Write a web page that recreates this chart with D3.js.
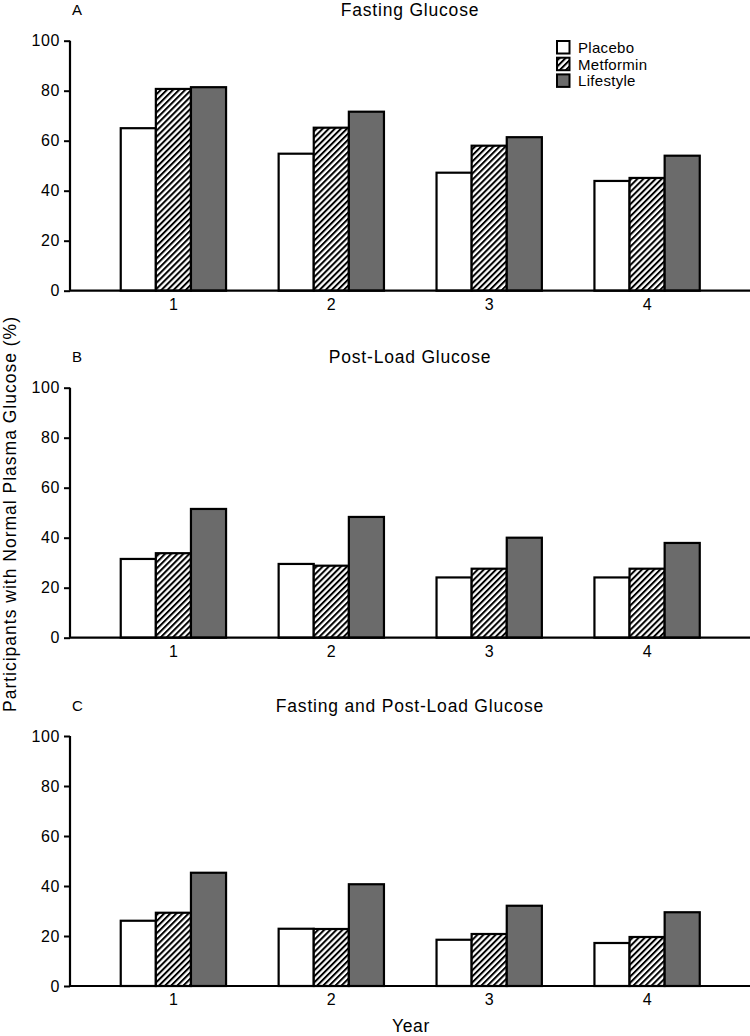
<!DOCTYPE html>
<html><head><meta charset="utf-8">
<script src="https://cdn.jsdelivr.net/npm/d3@7"></script>
<style>
html,body{margin:0;padding:0;background:#fff;}
svg{display:block;font-family:"Liberation Sans",Arial,Helvetica,sans-serif;}
</style></head>
<body>
<svg id="chart" width="750" height="1036"></svg>
<script>
const years = ["1","2","3","4"];
const seriesNames = ["Placebo","Metformin","Lifestyle"];
const panelLetters = ["A","B","C"];
const panelTitles = ["Fasting Glucose","Post-Load Glucose","Fasting and Post-Load Glucose"];
const yTicks = [0,20,40,60,80,100];
// values per panel: [placebo, metformin, lifestyle] for years 1-4
const fastingPlacebo   = [65.0, 54.8, 47.2, 43.9];
const fastingMetformin = [80.7, 65.2, 58.0, 45.1];
const fastingLifestyle = [81.4, 71.6, 61.4, 54.0];
const postPlacebo      = [31.5, 29.5, 24.1, 24.1];
const postMetformin    = [33.8, 28.8, 27.6, 27.6];
const postLifestyle    = [51.5, 48.3, 40.0, 37.9];
const bothPlacebo      = [26.1, 22.9, 18.5, 17.2];
const bothMetformin    = [29.3, 22.8, 20.8, 19.6];
const bothLifestyle    = [45.3, 40.7, 32.1, 29.5];
const panelData = [
  [fastingPlacebo, fastingMetformin, fastingLifestyle],
  [postPlacebo, postMetformin, postLifestyle],
  [bothPlacebo, bothMetformin, bothLifestyle]
];

const svg = d3.select("#chart");
const defs = svg.append("defs");
const pat = defs.append("pattern").attr("id","hatch")
  .attr("patternUnits","userSpaceOnUse").attr("width",4.3).attr("height",4.3)
  .attr("patternTransform","rotate(45)");
pat.append("rect").attr("width",4.3).attr("height",4.3).attr("fill","#fff");
pat.append("line").attr("x1",1).attr("y1",0).attr("x2",1).attr("y2",4.3)
  .attr("stroke","#000").attr("stroke-width",2);

const fills = ["#ffffff","url(#hatch)","#6b6b6b"];
const axisLeft = 70, axisRight = 750;
const panelTops = [40.7, 387.7, 736];
const panelH = 250;
const FONT = "'Liberation Sans',Arial,sans-serif";

const x0 = d3.scaleBand().domain(years).range([94.45, 726.05]).paddingInner(0.333).paddingOuter(0.1665);
const x1 = d3.scaleBand().domain(seriesNames).range([0, x0.bandwidth()]);

panelData.forEach((series, pi) => {
  const top = panelTops[pi];
  const y = d3.scaleLinear().domain([0,100]).range([top+panelH, top]);
  const g = svg.append("g");

  series.forEach((vals, si) => {
    g.selectAll(null).data(vals).enter().append("rect")
      .attr("x", (d,i) => x0(years[i]) + x1(seriesNames[si]))
      .attr("y", d => y(d))
      .attr("width", x1.bandwidth())
      .attr("height", d => y(0) - y(d))
      .attr("fill", fills[si])
      .attr("stroke", "#000")
      .attr("stroke-width", 2.2);
  });

  const ya = g.append("g").attr("transform", `translate(${axisLeft},0)`)
    .call(d3.axisLeft(y).tickValues(yTicks).tickSize(6).tickPadding(4));
  ya.select(".domain").attr("stroke","#000").attr("stroke-width",2.2).attr("d",`M0,${y(100)}V${y(0)}`);
  ya.selectAll(".tick line").attr("stroke","#000").attr("stroke-width",2);
  ya.selectAll(".tick text").attr("font-size","16px").attr("letter-spacing","0.6px")
    .attr("fill","#000").style("font-family",FONT);

  const xa = g.append("g").attr("transform", `translate(0,${y(0)})`)
    .call(d3.axisBottom(x0).tickSize(0).tickPadding(8));
  xa.select(".domain").attr("stroke","#000").attr("stroke-width",2.2).attr("d",`M${axisLeft},0H${axisRight}`);
  xa.selectAll(".tick text").attr("font-size","16px").attr("fill","#000").style("font-family",FONT);

  g.append("text").attr("x",72).attr("y",top-25.5).attr("font-size","15px").attr("fill","#000")
    .text(panelLetters[pi]);
  g.append("text").attr("x",(axisLeft+axisRight)/2).attr("y",top-24.5).attr("text-anchor","middle")
    .attr("font-size","17.5px").attr("letter-spacing","0.8px").attr("fill","#000").text(panelTitles[pi]);
});

const leg = svg.append("g").attr("transform","translate(557,41)");
seriesNames.forEach((n,i) => {
  leg.append("rect").attr("x",0).attr("y",i*16.7).attr("width",12.5).attr("height",12.5)
    .attr("fill",fills[i]).attr("stroke","#000").attr("stroke-width",2);
  leg.append("text").attr("x",21).attr("y",i*16.7+11.8).attr("font-size","15px")
    .attr("letter-spacing","0.3px").attr("fill","#000").text(n);
});

svg.append("text").attr("transform","translate(16,514) rotate(-90)").attr("text-anchor","middle")
  .attr("font-size","17.5px").attr("letter-spacing","1px").attr("fill","#000")
  .text("Participants with Normal Plasma Glucose (%)");
svg.append("text").attr("x",411).attr("y",1032).attr("text-anchor","middle")
  .attr("font-size","17.5px").attr("letter-spacing","0.6px").attr("fill","#000").text("Year");
</script>
</body></html>
